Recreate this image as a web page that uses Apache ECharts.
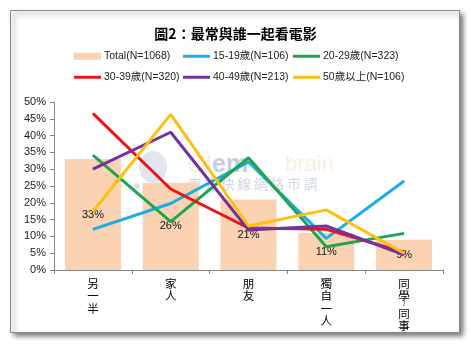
<!DOCTYPE html>
<html><head><meta charset="utf-8">
<script src="https://cdn.jsdelivr.net/npm/echarts@6/dist/echarts.min.js"></script>
<style>html,body{margin:0;padding:0;background:#fff}#c{width:471px;height:345px}</style>
</head><body><div id="c"></div>
<script>
const categories = ['另一半', '家人', '朋友', '獨自一人', '同學/同事'];
const totalValues = [33, 26, 21, 11, 9];
const s15to19 = [12.1, 19.8, 32.2, 9.4, 26.5];
const s20to29 = [34.2, 14.4, 33.4, 6.9, 10.9];
const s30to39 = [46.6, 24.1, 12.5, 12.1, 5.3];
const s40to49 = [30.0, 41.0, 11.9, 13.1, 4.5];
const s50up = [17.4, 46.3, 13.1, 17.9, 5.0];
const seriesNames = ['Total(N=1068)', '15-19歲(N=106)', '20-29歲(N=323)', '30-39歲(N=320)', '40-49歲(N=213)', '50歲以上(N=106)'];
const yTickLabels = ['0%', '5%', '10%', '15%', '20%', '25%', '30%', '35%', '40%', '45%', '50%'];

const FONT = '"Liberation Sans", "Noto Sans CJK TC", sans-serif';
const CJK = '"Noto Sans CJK TC", sans-serif';
const lineColors = ['#1AAEE2', '#1EA64D', '#E8161C', '#7232A0', '#FDC010'];
const barColor = '#FBD3B3';

const chart = echarts.init(document.getElementById('c'));

function legendAt(name, left, top, isBar) {
  return {
    data: [name], left: left, top: top, padding: 0, orient: 'horizontal',
    icon: 'rect', itemWidth: 27, itemHeight: isBar ? 7 : 3,
    textStyle: { fontFamily: FONT, fontSize: 10.5, color: '#222', padding: [0, 0, 0, -2] },
    selectedMode: false
  };
}

const lineData = [s15to19, s20to29, s30to39, s40to49, s50up];

const option = {
  animation: false,
  backgroundColor: '#fff',
  title: {
    text: '圖2：最常與誰一起看電影', left: 'center', top: 22,
    textStyle: { fontFamily: CJK, fontSize: 14, fontWeight: 'bold', color: '#000' }
  },
  legend: [
    legendAt(seriesNames[0], 74, 51, true),
    legendAt(seriesNames[1], 183, 51, false),
    legendAt(seriesNames[2], 293, 51, false),
    legendAt(seriesNames[3], 74, 72, false),
    legendAt(seriesNames[4], 183, 72, false),
    legendAt(seriesNames[5], 293, 72, false)
  ],
  grid: { left: 54, right: 28, top: 102, bottom: 75, containLabel: false },
  xAxis: {
    type: 'category', data: categories, boundaryGap: true,
    axisLine: { lineStyle: { color: '#868686' } },
    axisTick: { show: true, length: 4, lineStyle: { color: '#868686' } },
    axisLabel: {
      interval: 0, margin: 7, color: '#000', fontFamily: CJK, fontSize: 11.5, lineHeight: 12.5,
      formatter: function (v) {
        return v.split('').map(function (ch) { return ch === '/' ? '{s|/}' : ch; }).join('\n');
      },
      rich: { s: { fontSize: 7, lineHeight: 5, fontFamily: FONT, color: '#000' } }
    }
  },
  yAxis: {
    type: 'value', min: 0, max: 50, interval: 5,
    axisLine: { show: true, lineStyle: { color: '#868686' } },
    axisTick: { show: true, length: 4, lineStyle: { color: '#868686' } },
    splitLine: { show: false },
    axisLabel: {
      margin: 8, color: '#222', fontFamily: FONT, fontSize: 11,
      formatter: function (v) { return yTickLabels[Math.round(v / 5)]; }
    }
  },
  graphic: [
    { type: 'rect', z: -10, shape: { x: 10.5, y: 10.5, width: 449, height: 322 },
      style: { fill: '#fff', stroke: '#8a8a8a', lineWidth: 1, shadowBlur: 5, shadowOffsetX: 3, shadowOffsetY: 3, shadowColor: 'rgba(0,0,0,0.55)' } },
    { type: 'group', z: 3, silent: true, children: [
      { type: 'ellipse', shape: { cx: 153, cy: 167, rx: 14, ry: 16 }, style: { fill: 'rgba(195,203,222,0.5)' } },
      { type: 'circle', shape: { cx: 137, cy: 186, r: 3 }, style: { fill: 'rgba(190,198,215,0.55)' } },
      { type: 'circle', shape: { cx: 155, cy: 191, r: 3 }, style: { fill: 'rgba(190,198,215,0.55)' } },
      { type: 'circle', shape: { cx: 168, cy: 188, r: 3 }, style: { fill: 'rgba(190,198,215,0.55)' } },
      { type: 'text', x: 187, y: 165, style: { text: 'OL', fontFamily: FONT, fontSize: 24, fill: 'rgba(250,222,195,0.5)', verticalAlign: 'middle' } },
      { type: 'text', x: 212, y: 165, style: { text: 'em', fontFamily: FONT, fontSize: 25, fontWeight: 'bold', fill: 'rgba(150,165,200,0.55)', verticalAlign: 'middle' } },
      { type: 'text', x: 285, y: 165, style: { text: 'brain', fontFamily: FONT, fontSize: 22, fill: 'rgba(250,222,195,0.55)', verticalAlign: 'middle' } },
      { type: 'text', x: 188, y: 184, style: { text: '東 方 快 線 網 絡 市 調', fontFamily: CJK, fontSize: 13.5, fill: 'rgba(160,172,200,0.5)', verticalAlign: 'middle' } }
    ] }
  ],
  series: [
    {
      name: seriesNames[0], type: 'bar', data: totalValues, barCategoryGap: '28%', z: 1,
      itemStyle: { color: barColor },
      label: { show: true, position: 'inside', color: '#111', fontFamily: FONT, fontSize: 11, formatter: '{c}%' }
    }
  ].concat(lineData.map(function (d, i) {
    return {
      name: seriesNames[i + 1], type: 'line', data: d, z: 5 + i,
      symbol: 'none', showSymbol: false,
      itemStyle: { color: lineColors[i] },
      lineStyle: { color: lineColors[i], width: 3 }
    };
  }))
};
chart.setOption(option);
</script>
</body></html>
